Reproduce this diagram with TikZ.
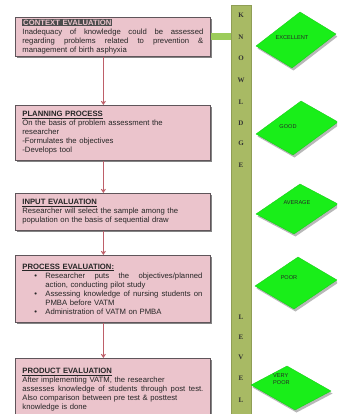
\documentclass[tikz,border=0pt]{standalone}
\usepackage{fontspec}
\setmainfont{Liberation Sans}
\newfontfamily\barfont{Liberation Serif}
\usetikzlibrary{arrows.meta,shadows}
\definecolor{boxpink}{RGB}{235,196,204}
\definecolor{boxline}{RGB}{95,85,90}
\definecolor{arrowred}{RGB}{190,95,105}
\definecolor{barolive}{RGB}{168,186,100}
\definecolor{linkgreen}{RGB}{156,204,90}
\definecolor{diagreen}{RGB}{25,238,25}
\newcommand{\jline}[2][181pt]{\makebox[#1][s]{\spaceskip=0.28em plus 1fil\relax #2}}
\newcommand{\btitle}[1]{\underline{\textbf{#1}}}
\newcommand{\bitem}{\hspace*{12pt}\makebox[11pt][l]{\textbullet}}
\newcommand{\bcont}{\hspace*{23pt}}
\begin{document}
\begin{tikzpicture}[x=1pt,y=-1pt,
 box/.style={draw=boxline, line width=0.8pt, fill=boxpink, anchor=north west,
   inner xsep=7pt, inner ysep=2pt, text width=181pt, align=left,
   font=\fontsize{7.7}{9}\selectfont, text=black!85,
   drop shadow={shadow xshift=2pt, shadow yshift=-2pt, fill=black!60, opacity=0.8}},
 arr/.style={draw=arrowred, line width=1pt, -{Straight Barb[length=3pt,width=4pt]}},
 kbar/.style={fill=barolive, draw=barolive!85!black, line width=0.4pt, anchor=north west,
   minimum width=20pt, minimum height=420pt, inner sep=0pt},
 letter/.style={font=\barfont\bfseries\fontsize{7}{7}\selectfont, text=black!80, inner sep=0pt},
 dia/.style={fill=diagreen, draw=diagreen!85!black, line width=0.3pt},
 diashadow/.style={fill=black!28},
 level/.style={font=\fontsize{5.6}{7}\selectfont, text=black!85, align=left, inner sep=0pt}
]
\useasboundingbox (0,0) rectangle (337,414);
\fill[white] (0,0) rectangle (337,414);
\clip (0,0) rectangle (337,414);

% knowledge level bar
\node[kbar] (kb) at (231,5) {};
\foreach \ch/\yy [count=\i] in {K/15,N/37,O/58,W/80,L/102,D/123,G/143,E/165,L/317,E/337,V/357,E/378,L/400}
  \node[letter] (lt\i) at (241,\yy) {\ch};

% boxes
\node[box, minimum height=38pt] (b1) at (15,17)
 {{\fboxsep=0.8pt\colorbox{black!70}{\textcolor{boxpink}{\textbf{CONTEXT EVALUATION}}}}\\
  \jline{Inadequacy of knowledge could be assessed}\\
  \jline{regarding problems related to prevention \&}\\
  management of birth asphyxia};
\node[box, minimum height=55pt] (b2) at (15,105)
 {\btitle{PLANNING PROCESS}\\
  On the basis of problem assessment the\\
  researcher\\
  -Formulates the objectives\\
  -Develops tool};
\node[box, minimum height=37pt] (b3) at (15,193)
 {\btitle{INPUT EVALUATION}\\
  Researcher will select the sample among the\\
  population on the basis of sequential draw};
\node[box, minimum height=67pt] (b4) at (15,255)
 {\btitle{PROCESS EVALUATION:}\\
  \bitem\jline[157pt]{Researcher puts the objectives/planned}\\
  \bcont action, conducting pilot study\\
  \bitem\jline[157pt]{Assessing knowledge of nursing students on}\\
  \bcont PMBA before VATM\\
  \bitem Administration of VATM on PMBA};
\node[box, minimum height=62pt] (b5) at (15,358)
 {\btitle{PRODUCT EVALUATION}\\
  After implementing VATM, the researcher\\
  \jline{assesses knowledge of students through post test.}\\
  Also comparison between pre test \& posttest\\
  knowledge is done};

% arrows
\draw[arr] ([xshift=-9.5pt]b1.south) -- ([xshift=-9.5pt]b2.north);
\draw[arr] ([xshift=-9.5pt]b2.south) -- ([xshift=-9.5pt]b3.north);
\draw[arr] ([xshift=-9.5pt]b3.south) -- ([xshift=-9.5pt]b4.north);
\draw[arr] ([xshift=-9.5pt]b4.south) -- ([xshift=-9.5pt]b5.north);

% link from context box to bar
\draw[linkgreen, line width=7pt] (b1.east) -- (b1.east -| kb.west);

% level diamonds
\foreach \cx/\cy/\ax/\ay/\bx/\by in {296/40/40/-6/-4/28, 297/128/41/-6/-4/27, 297/209/41/-5/-3/25, 296/283/41/-3/-2/26, 291/388/40/3/4/22}{
  \fill[diashadow] (\cx+\ax+1.5,\cy+\ay+2.5) -- (\cx+\bx+1.5,\cy+\by+2.5) -- (\cx-\ax+1.5,\cy-\ay+2.5) -- (\cx-\bx+1.5,\cy-\by+2.5) -- cycle;
  \filldraw[dia] (\cx+\ax,\cy+\ay) -- (\cx+\bx,\cy+\by) -- (\cx-\ax,\cy-\ay) -- (\cx-\bx,\cy-\by) -- cycle;
}
\node[level] (lv1) at (292,38) {EXCELLENT};
\node[level] (lv2) at (288,127) {GOOD};
\node[level] (lv3) at (297,203) {AVERAGE};
\node[level] (lv4) at (289,278) {POOR};
\node[level, anchor=west] (lv5) at (273,379) {VERY\\POOR};
\end{tikzpicture}
\end{document}
